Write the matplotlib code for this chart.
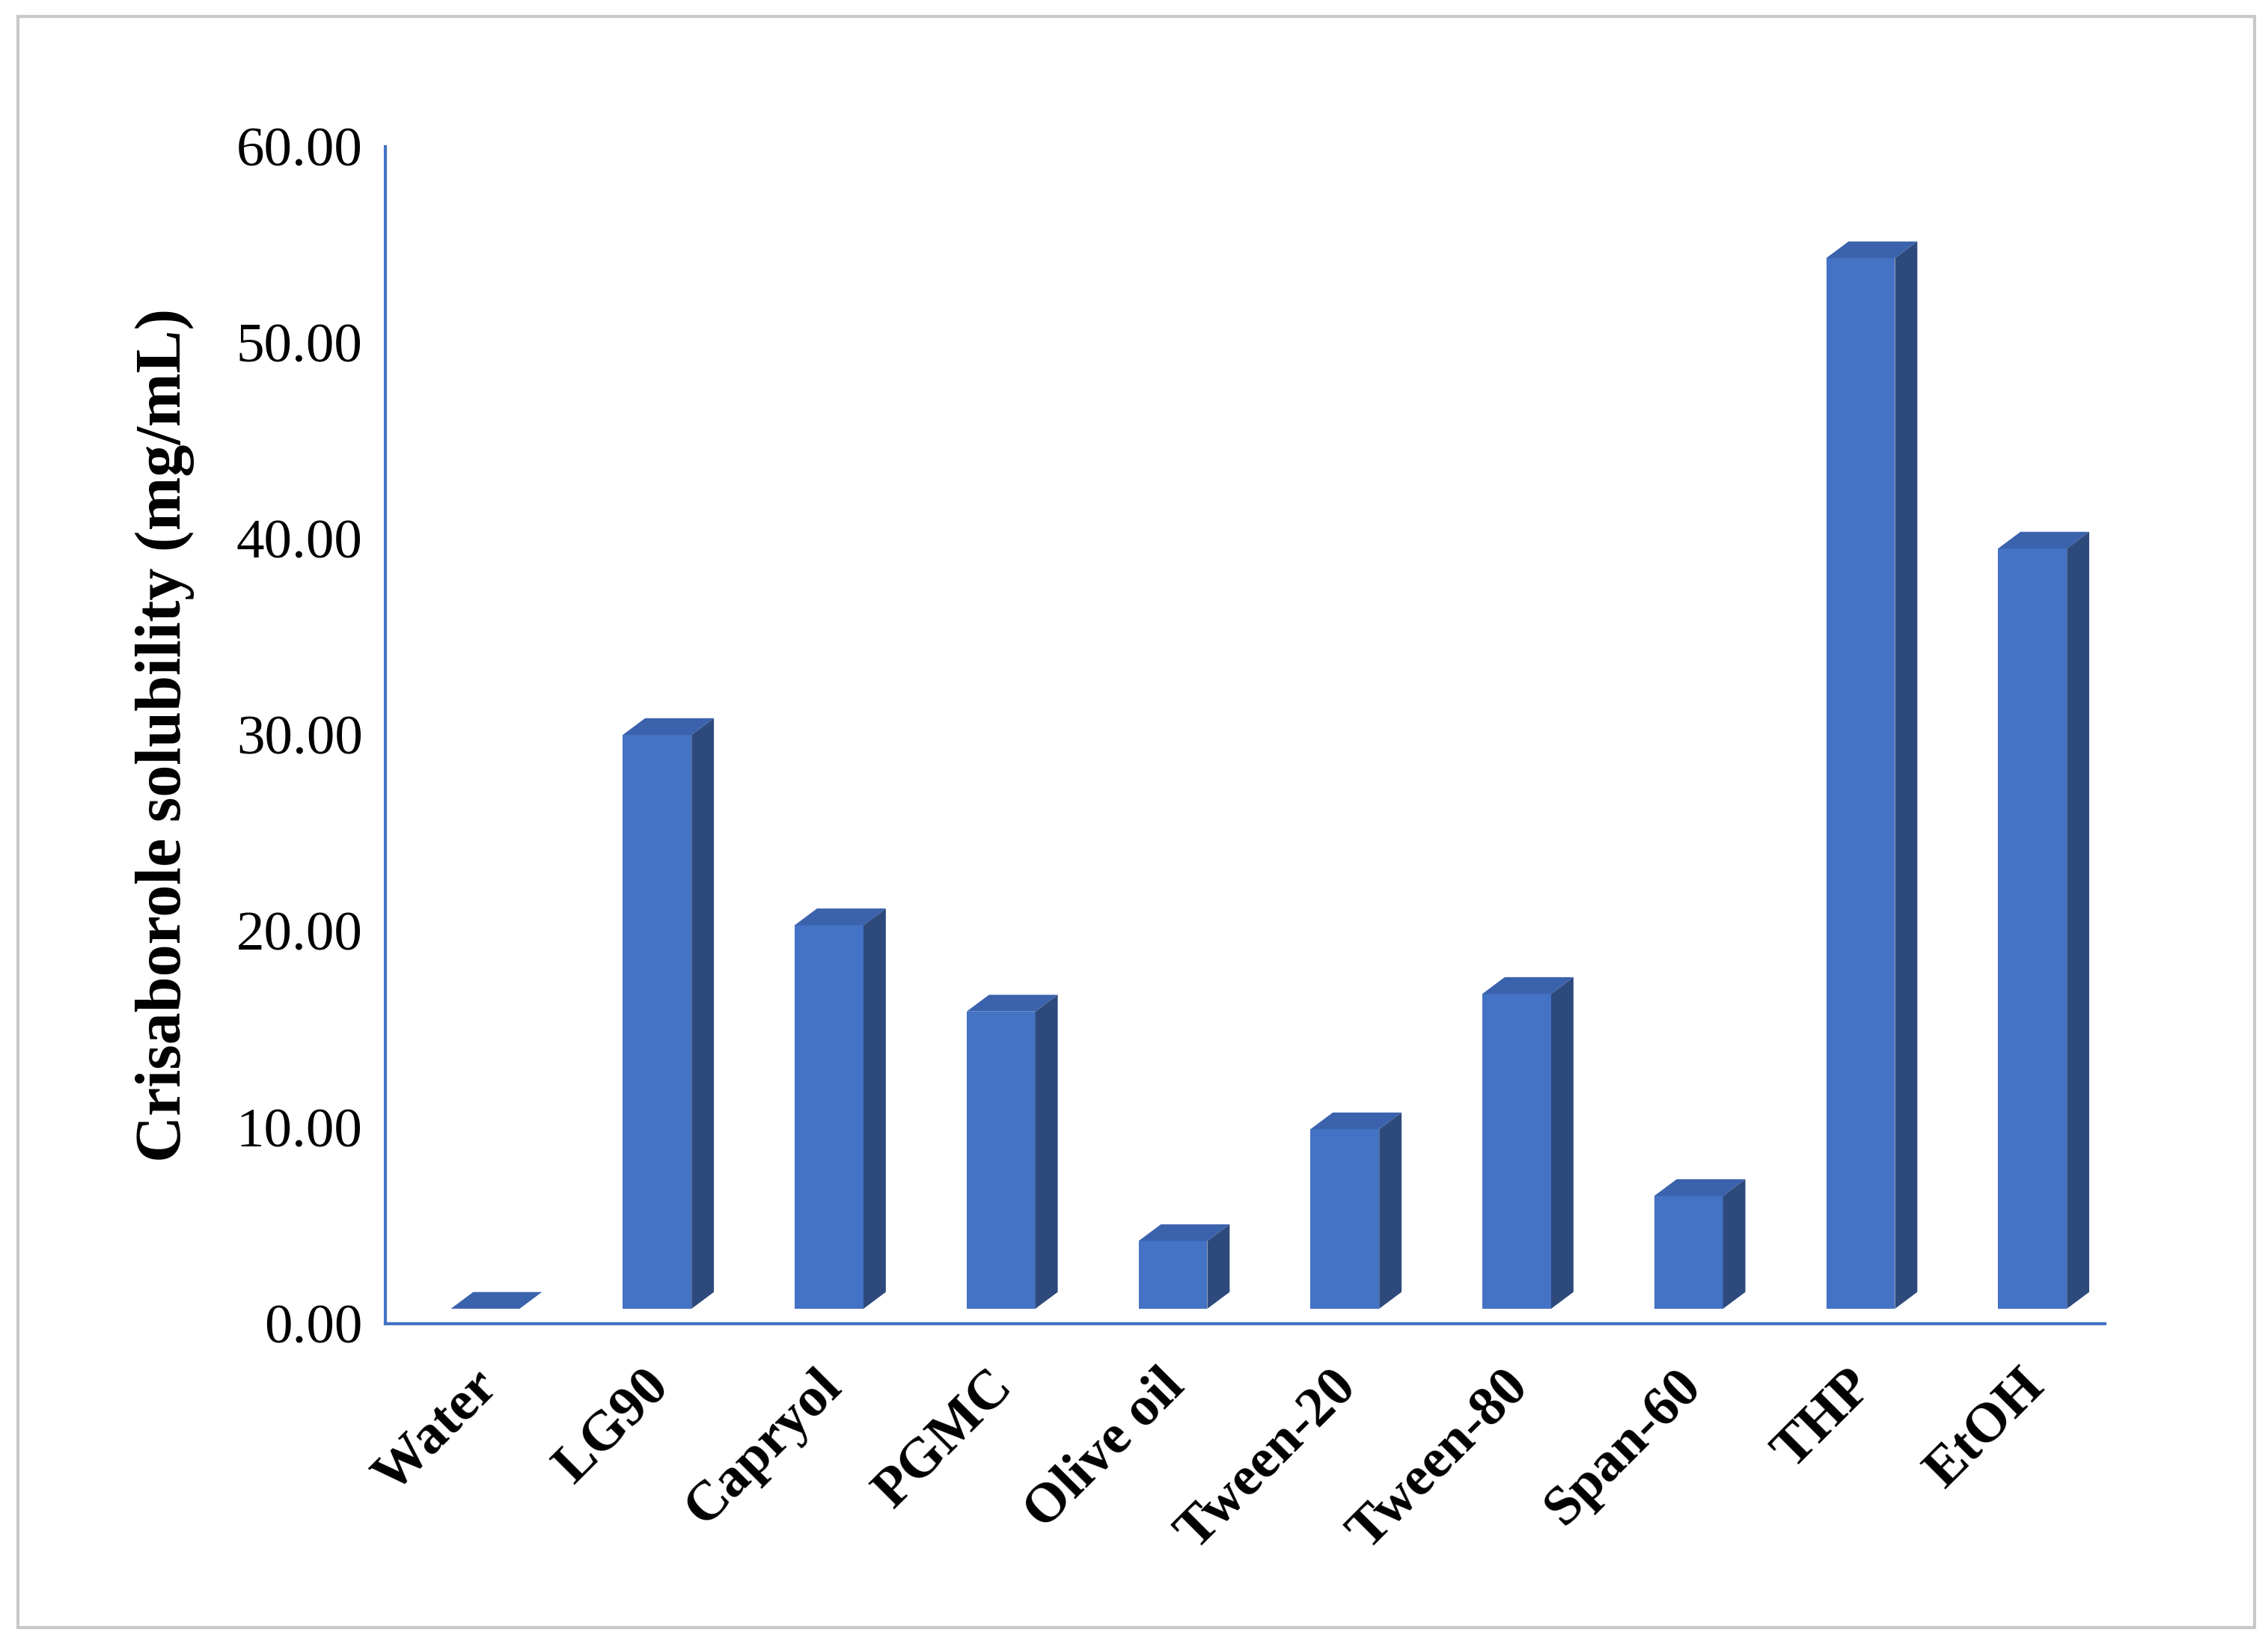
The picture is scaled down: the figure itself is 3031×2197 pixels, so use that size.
import matplotlib.pyplot as plt
from matplotlib.patches import Polygon, Rectangle

categories = ["Water", "LG90", "Capryol", "PGMC", "Olive oil", "Tween-20",
              "Tween-80", "Span-60", "THP", "EtOH"]
values = [0.35, 30.0, 20.3, 15.9, 4.2, 9.9, 16.8, 6.5, 54.3, 39.5]
yticks = [0, 10, 20, 30, 40, 50, 60]

plt.rcParams['font.family'] = ['Liberation Serif', 'DejaVu Serif']

fig = plt.figure(figsize=(30.31, 21.97), dpi=100)
fig.patches.append(Rectangle((0.008, 0.01), 0.986, 0.98, transform=fig.transFigure,
                             fill=False, edgecolor='#c8c8c8', lw=3))
ax = fig.add_axes([0.170, 0.195, 0.758, 0.716])

front = '#4472C4'
side = '#2E4A7D'
top = '#3B62AD'
w = 0.40
dx, dy = 0.13, 0.85
base = 0.75
for i, v in enumerate(values):
    v = max(v, base)
    x0 = i + 0.08 - w / 2
    x1 = x0 + w
    ax.add_patch(Polygon([(x0, base), (x1, base), (x1, v), (x0, v)], closed=True,
                         facecolor=front, edgecolor='none'))
    ax.add_patch(Polygon([(x0, v), (x1, v), (x1 + dx, v + dy), (x0 + dx, v + dy)],
                         closed=True, facecolor=top, edgecolor='none'))
    ax.add_patch(Polygon([(x1, base), (x1 + dx, base + dy), (x1 + dx, v + dy), (x1, v)],
                         closed=True, facecolor=side, edgecolor='none'))

ax.set_xlim(-0.5, len(categories) - 0.5)
ax.set_ylim(0, 60)
ax.set_xticks(range(len(categories)))
ax.set_xticklabels(categories, rotation=45, ha='right', rotation_mode='anchor',
                   fontweight='bold', fontsize=54)
ax.set_yticks(yticks)
ax.set_yticklabels([f"{t:.2f}" for t in yticks], fontsize=54)
ax.tick_params(length=0, pad=22)
ax.tick_params(axis='x', pad=36)
for s in ['top', 'right']:
    ax.spines[s].set_visible(False)
for s in ['left', 'bottom']:
    ax.spines[s].set_color('#4472C4')
    ax.spines[s].set_linewidth(3)
ax.set_ylabel("Crisaborole solubility (mg/mL)", fontsize=62, fontweight='bold', labelpad=40)

fig.savefig("out.png", dpi=100)
